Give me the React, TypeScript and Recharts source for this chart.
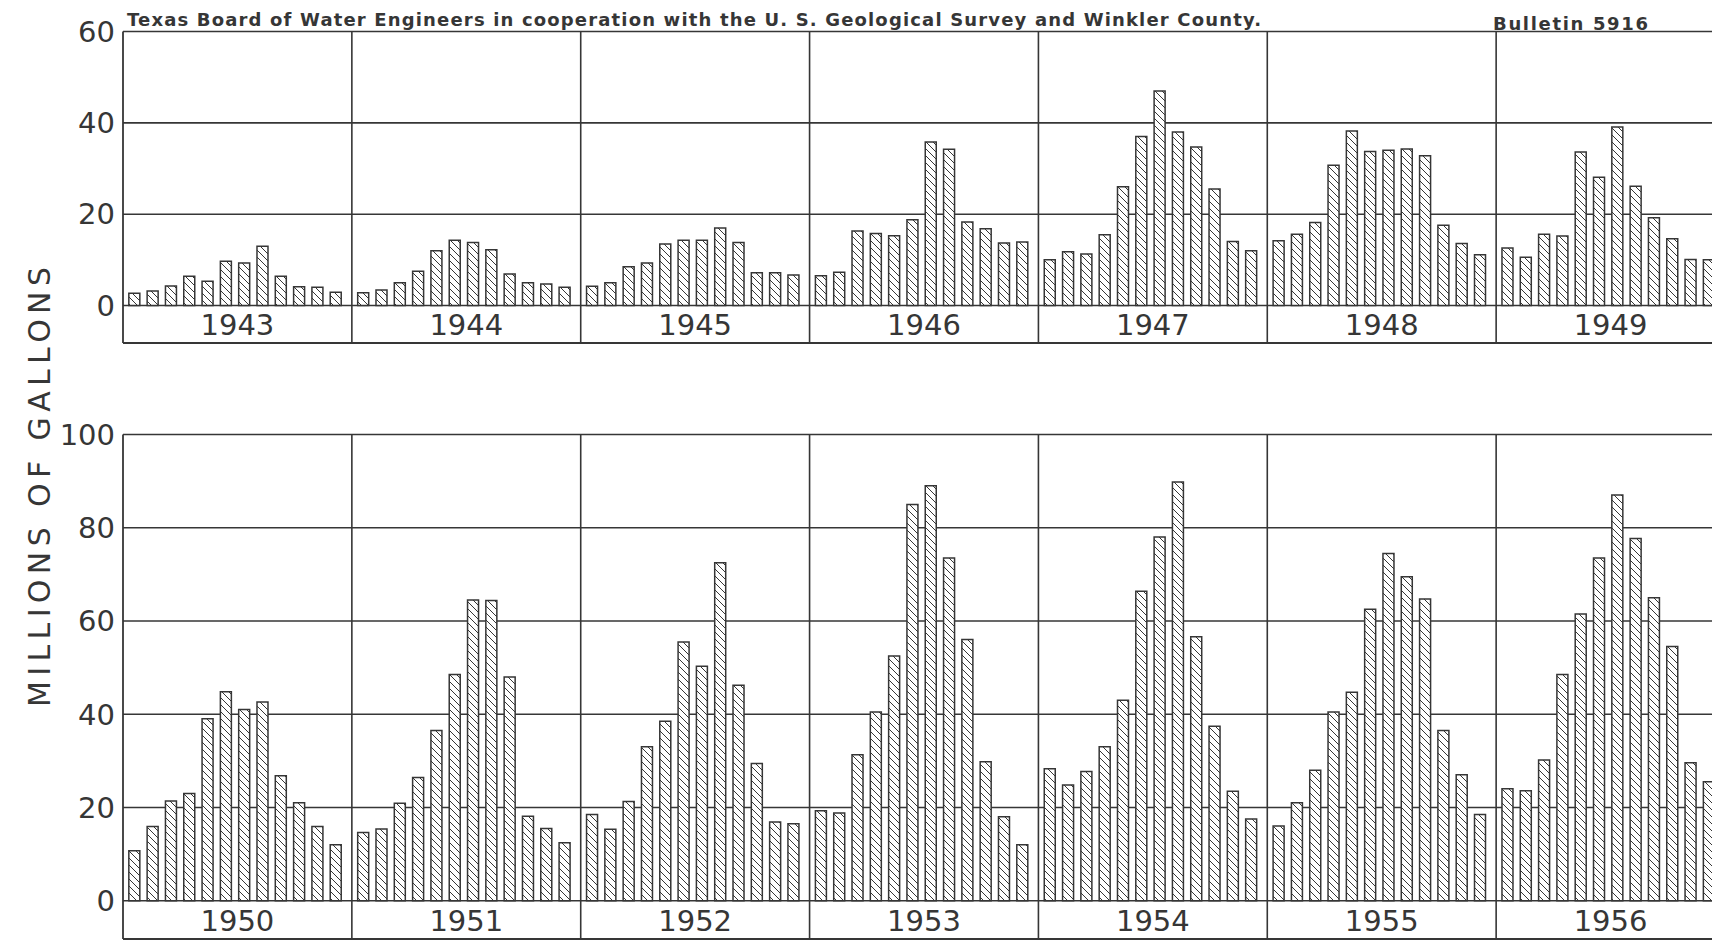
import React from 'react';
import { BarChart, Bar, XAxis, YAxis, CartesianGrid, ReferenceLine } from 'recharts';

const months = ['Jan', 'Feb', 'Mar', 'Apr', 'May', 'Jun', 'Jul', 'Aug', 'Sep', 'Oct', 'Nov', 'Dec'];

const topYears = [1943, 1944, 1945, 1946, 1947, 1948, 1949];
const bottomYears = [1950, 1951, 1952, 1953, 1954, 1955, 1956];

const v1943 = [2.7, 3.2, 4.3, 6.4, 5.3, 9.7, 9.3, 13.0, 6.4, 4.1, 4.0, 2.9];
const v1944 = [2.8, 3.4, 5.0, 7.5, 12.0, 14.3, 13.8, 12.2, 6.9, 5.0, 4.7, 4.0];
const v1945 = [4.2, 5.0, 8.5, 9.3, 13.5, 14.3, 14.3, 17.0, 13.8, 7.2, 7.2, 6.7];
const v1946 = [6.5, 7.3, 16.3, 15.8, 15.3, 18.8, 35.8, 34.2, 18.3, 16.8, 13.7, 13.9];
const v1947 = [10.0, 11.8, 11.3, 15.5, 26.0, 37.0, 47.0, 38.0, 34.7, 25.5, 14.0, 12.0];
const v1948 = [14.2, 15.6, 18.2, 30.7, 38.2, 33.7, 34.0, 34.3, 32.8, 17.6, 13.6, 11.1];
const v1949 = [12.6, 10.6, 15.6, 15.2, 33.6, 28.1, 39.1, 26.1, 19.2, 14.6, 10.1, 10.0];

const v1950 = [10.7, 15.9, 21.4, 23.0, 39.0, 44.8, 41.0, 42.6, 26.8, 21.0, 15.9, 12.0];
const v1951 = [14.6, 15.4, 20.9, 26.4, 36.5, 48.5, 64.5, 64.4, 48.0, 18.1, 15.5, 12.4];
const v1952 = [18.5, 15.3, 21.3, 33.0, 38.5, 55.5, 50.3, 72.5, 46.2, 29.4, 16.9, 16.5];
const v1953 = [19.3, 18.8, 31.3, 40.5, 52.5, 85.0, 89.0, 73.5, 56.0, 29.8, 18.0, 12.0];
const v1954 = [28.3, 24.8, 27.7, 33.0, 43.0, 66.4, 78.0, 89.8, 56.6, 37.4, 23.5, 17.5];
const v1955 = [16.0, 21.0, 28.0, 40.5, 44.7, 62.5, 74.5, 69.5, 64.7, 36.5, 27.0, 18.5];
const v1956 = [24.0, 23.6, 30.2, 48.5, 61.5, 73.5, 87.0, 77.7, 65.0, 54.5, 29.6, 25.5];

const topTicks = [0, 20, 40, 60];
const bottomTicks = [0, 20, 40, 60, 80, 100];

const titleText = 'Texas Board of Water Engineers in cooperation with the U. S. Geological Survey and Winkler County.';
const bulletinText = 'Bulletin 5916';
const yAxisTitle = 'MILLIONS  OF  GALLONS';

const INK = '#363636';
const FONT = '"DejaVu Sans", sans-serif';

// each year panel holds 12 monthly slots plus half a slot of spacing at its right end
const SLOTS_PER_YEAR = 12.5;
const SLOT_START = 0.6;

function buildRows(series: number[][], years: number[]) {
  const rows: { x: number; v: number; year: number; month: string }[] = [];
  series.forEach((vals, yi) => {
    vals.forEach((v, mi) => {
      rows.push({ x: yi * SLOTS_PER_YEAR + mi + SLOT_START, v, year: years[yi], month: months[mi] });
    });
  });
  return rows;
}

const topRows = buildRows([v1943, v1944, v1945, v1946, v1947, v1948, v1949], topYears);
const bottomRows = buildRows([v1950, v1951, v1952, v1953, v1954, v1955, v1956], bottomYears);

const CHART_W = 1725;
const MARGIN_L = 63;
const YAXIS_W = 60;

function makeYearTick(years: number[]) {
  return (props: any) => {
    const { x, y, payload } = props;
    const idx = Math.round((payload.value - SLOTS_PER_YEAR / 2) / SLOTS_PER_YEAR);
    return (
      <text
        x={x}
        y={y - 18.5}
        textAnchor="middle"
        dominantBaseline="central"
        fontFamily={FONT}
        fontSize={29}
        fill={INK}
      >
        {years[idx]}
      </text>
    );
  };
}

function Panel(props: {
  rows: any[];
  years: number[];
  height: number;
  top: number;
  domain: [number, number];
  ticks: number[];
}) {
  const { rows, years, height, top, domain, ticks } = props;
  const span = years.length * SLOTS_PER_YEAR;
  const dividers = years.map((_, k) => (k + 1) * SLOTS_PER_YEAR);
  const yearTicks = years.map((_, k) => k * SLOTS_PER_YEAR + SLOTS_PER_YEAR / 2);
  return (
    <BarChart
      width={CHART_W}
      height={height}
      data={rows}
      margin={{ top, right: 0, bottom: 0, left: MARGIN_L }}
      barCategoryGap={0}
    >
      <CartesianGrid horizontal={true} vertical={false} stroke={INK} strokeWidth={1.6} strokeOpacity={1} />
      <XAxis
        dataKey="x"
        type="number"
        domain={[0, span]}
        ticks={yearTicks}
        interval={0}
        height={1}
        tickSize={0}
        tickMargin={0}
        tickLine={false}
        axisLine={{ stroke: INK, strokeWidth: 1.8 }}
        tick={makeYearTick(years)}
        allowDataOverflow={true}
      />
      <YAxis
        type="number"
        domain={domain}
        ticks={ticks}
        interval={0}
        width={YAXIS_W}
        tickLine={false}
        axisLine={{ stroke: INK, strokeWidth: 1.8 }}
        tick={{ fontFamily: FONT, fontSize: 29, fill: INK }}
        allowDataOverflow={true}
      />
      {dividers.map((d) => (
        <ReferenceLine key={d} x={d} stroke={INK} strokeWidth={1.6} />
      ))}
      <Bar
        dataKey="v"
        barSize={11}
        fill="url(#hatch)"
        stroke={INK}
        strokeWidth={1.5}
        isAnimationActive={false}
      />
    </BarChart>
  );
}

export default function App() {
  return (
    <div
      style={{
        position: 'absolute',
        left: 0,
        top: 0,
        width: 1712,
        height: 943,
        overflow: 'hidden',
        background: '#ffffff',
      }}
    >
      <svg width={0} height={0} style={{ position: 'absolute' }}>
        <defs>
          <pattern id="hatch" patternUnits="userSpaceOnUse" width={7} height={7}>
            <rect width={7} height={7} fill="#ffffff" />
            <path d="M0,0 L7,7 M-1,6 L1,8 M6,-1 L8,1" stroke={INK} strokeWidth={1} />
          </pattern>
        </defs>
      </svg>
      <div style={{ position: 'absolute', left: 0, top: 0 }}>
        <Panel rows={topRows} years={topYears} height={344} top={31.5} domain={[-8.2, 60]} ticks={topTicks} />
      </div>
      <div style={{ position: 'absolute', left: 0, top: 344 }}>
        <Panel rows={bottomRows} years={bottomYears} height={596} top={90.5} domain={[-8.22, 100]} ticks={bottomTicks} />
      </div>
      <svg
        width={1712}
        height={943}
        style={{ position: 'absolute', left: 0, top: 0, pointerEvents: 'none' }}
      >
        <text
          x={127}
          y={26}
          fontFamily={FONT}
          fontWeight="bold"
          fontSize={18}
          fill={INK}
          textLength={1134}
          lengthAdjust="spacing"
        >
          {titleText}
        </text>
        <text
          x={1493}
          y={30}
          fontFamily={FONT}
          fontWeight="bold"
          fontSize={18}
          fill={INK}
          textLength={155}
          lengthAdjust="spacing"
        >
          {bulletinText}
        </text>
        <text
          x={0}
          y={0}
          transform="translate(50,487) rotate(-90)"
          textAnchor="middle"
          fontFamily={FONT}
          fontSize={30}
          fill={INK}
          textLength={440}
          lengthAdjust="spacing"
        >
          {yAxisTitle}
        </text>
      </svg>
    </div>
  );
}
